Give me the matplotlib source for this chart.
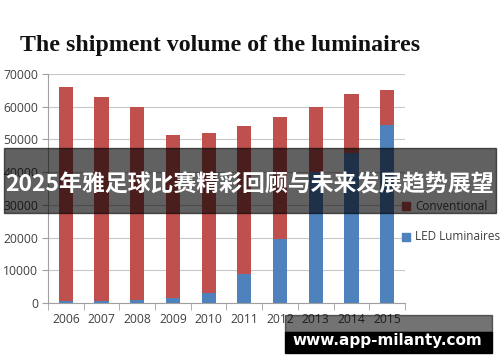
import matplotlib
matplotlib.use("Agg")
import matplotlib.pyplot as plt
import numpy as np
from matplotlib.patches import Rectangle

years = ["2006", "2007", "2008", "2009", "2010", "2011", "2012", "2013", "2014", "2015"]
led = [500, 500, 1000, 1500, 3000, 9000, 19500, 40000, 46000, 54500]
total = [66000, 63000, 60000, 51500, 52000, 54000, 57000, 60000, 64000, 65000]
conventional = [t - l for t, l in zip(total, led)]
yticks = [0, 10000, 20000, 30000, 40000, 50000, 60000, 70000]

title = "The shipment volume of the luminaires"
banner = "2025年雅足球比赛精彩回顾与未来发展趋势展望"
site = "www.app-milanty.com"

RED = "#C0504D"
BLUE = "#4F81BD"
W, H = 500, 362

fig = plt.figure(figsize=(5, 3.62), dpi=100)
fig.patch.set_facecolor("white")

def px(x0, y0, w, h):
    return [x0 / W, 1 - (y0 + h) / H, w / W, h / H]

ax = fig.add_axes(px(48, 74, 357, 229))
x = np.arange(len(years))
ax.bar(x, led, width=0.4, color=BLUE, zorder=3)
ax.bar(x, conventional, bottom=led, width=0.4, color=RED, zorder=3)
ax.set_xlim(-0.5, len(years) - 0.5)
ax.set_ylim(0, 70000)
ax.set_yticks(yticks)
ax.set_yticklabels([str(v) for v in yticks], fontsize=8.7, color="#404040", family="Open Sans")
ax.set_xticks(x)
ax.set_xticklabels(years, fontsize=8.7, color="#404040", family="Open Sans")
ax.set_xticks(np.arange(-0.5, len(years)), minor=True)
ax.tick_params(axis="x", which="major", length=0, pad=7)
ax.tick_params(axis="x", which="minor", length=5, color="#A0A0A0", direction="out")
ax.tick_params(axis="y", length=4, color="#A0A0A0", pad=3)
ax.grid(axis="y", color="#C8C8C8", linewidth=0.8, zorder=0)
for s in ["top", "right"]:
    ax.spines[s].set_visible(False)
for s in ["left", "bottom"]:
    ax.spines[s].set_color("#A0A0A0")
    ax.spines[s].set_linewidth(0.8)

# legend
fig.patches.append(Rectangle((402 / W, 1 - 210 / H), 8 / W, 8 / H, transform=fig.transFigure,
                             color=RED, zorder=5))
fig.text(415 / W, 1 - 206 / H, "Conventional", fontsize=8.5, color="#404040",
         family="Open Sans", va="center", ha="left", zorder=5)
fig.patches.append(Rectangle((402 / W, 1 - 241 / H), 8 / W, 8 / H, transform=fig.transFigure,
                             color=BLUE, zorder=5))
fig.text(415 / W, 1 - 237 / H, "LED Luminaires", fontsize=8.5, color="#404040",
         family="Open Sans", va="center", ha="left", zorder=5)

# title
fig.text(20 / W, 1 - 45 / H, title, fontsize=17.2, fontweight="bold",
         family="Liberation Serif", color="#111111", va="center", ha="left")

# banner overlay
fig.patches.append(Rectangle((4 / W, 1 - 213 / H), 492 / W, 65 / H, transform=fig.transFigure,
                             color="black", alpha=0.62, zorder=10))
fig.text(250 / W, 1 - 185 / H, banner, fontsize=16.5, fontweight="bold",
         family=["Noto Sans CJK SC", "DejaVu Sans"], color="white",
         va="center", ha="center", zorder=11)

# site watermark
fig.patches.append(Rectangle((285 / W, 1 - 332 / H), 207 / W, 17 / H, transform=fig.transFigure,
                             color="black", alpha=0.55, zorder=10))
fig.patches.append(Rectangle((285 / W, 1 - 353 / H), 207 / W, 21 / H, transform=fig.transFigure,
                             color="black", zorder=10))
fig.text(387 / W, 1 - 341 / H, site, fontsize=11, fontweight="bold",
         family="DejaVu Sans", color="white", va="center", ha="center", zorder=11)

fig.savefig("out.png", dpi=100)
